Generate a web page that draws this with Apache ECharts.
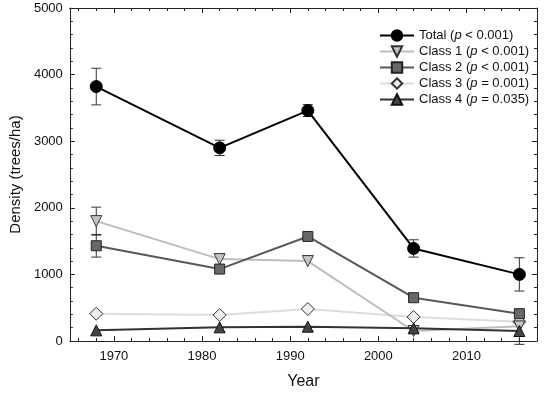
<!DOCTYPE html>
<html>
<head>
<meta charset="utf-8">
<script src="https://cdn.jsdelivr.net/npm/echarts@6/dist/echarts.min.js"></script>
<style>html,body{margin:0;padding:0;background:#fff}#c{width:550px;height:396px}</style>
</head>
<body>
<div id="c"></div>
<script>
const years = [1968, 1982, 1992, 2004, 2016];
const total = [3820, 2900, 3460, 1390, 1000];
const totalErr = [275, 115, 90, 130, 250];
const class1 = [1800, 1230, 1200, 150, 220];
const class1Err = [210, null, null, null, null];
const class2 = [1430, 1080, 1570, 650, 410];
const class2Err = [170, null, null, null, null];
const class3 = [410, 390, 480, 360, 290];
const class4 = [160, 205, 215, 190, 150];
const class4Err = [null, null, null, null, 200];
const xMajor = [1970, 1980, 1990, 2000, 2010];
const xMinor = [1966, 1968, 1972, 1974, 1976, 1978, 1982, 1984, 1986, 1988, 1992, 1994, 1996, 1998, 2002, 2004, 2006, 2008, 2012, 2014, 2016];
const seriesNames = ['Total', 'Class 1', 'Class 2', 'Class 3', 'Class 4'];
const pTexts = ['< 0.001', '< 0.001', '< 0.001', '= 0.001', '= 0.035'];

const FONT = 'Liberation Sans, Arial, sans-serif';
const pairs = v => years.map((y, i) => [y, v[i]]);
const errData = (v, e) => years.map((y, i) => e[i] == null ? null : [y, v[i] - e[i], v[i] + e[i]]).filter(d => d);

function errSeries(v, e) {
  return {
    type: 'custom', xAxisIndex: 0, yAxisIndex: 0, clip: false, silent: true, z: 1,
    data: errData(v, e),
    renderItem(params, api) {
      const x = api.value(0), lo = api.value(1), hi = api.value(2);
      const a = api.coord([x, hi]), b = api.coord([x, lo]);
      const w = 5, st = {stroke: '#333', lineWidth: 1};
      return {type: 'group', children: [
        {type: 'line', shape: {x1: a[0], y1: a[1], x2: b[0], y2: b[1]}, style: st},
        {type: 'line', shape: {x1: a[0] - w, y1: a[1], x2: a[0] + w, y2: a[1]}, style: st},
        {type: 'line', shape: {x1: b[0] - w, y1: b[1], x2: b[0] + w, y2: b[1]}, style: st}
      ]};
    }
  };
}

const AX = '#222';
function xAx(pos, major, labels) {
  return {
    type: 'value', position: pos, min: 1965, max: 2018,
    axisLine: {show: major, onZero: false, lineStyle: {color: AX, width: 1}},
    splitLine: {show: false},
    axisTick: {show: true, inside: true, length: major ? 5 : 3, customValues: major ? xMajor : xMinor, lineStyle: {color: AX}},
    axisLabel: {show: labels, customValues: xMajor, formatter: v => String(v), fontFamily: FONT, fontSize: 13, color: '#111', margin: 9},
    name: labels ? 'Year' : '', nameLocation: 'middle', nameGap: 33,
    nameTextStyle: {fontFamily: FONT, fontSize: 16, color: '#111'}
  };
}
function yAx(pos, labels) {
  return {
    type: 'value', position: pos, min: 0, max: 5000, interval: 1000,
    axisLine: {show: true, onZero: false, lineStyle: {color: AX, width: 1}},
    splitLine: {show: false},
    axisTick: {show: true, inside: true, length: 5, lineStyle: {color: AX}},
    minorTick: {show: true, splitNumber: 5, length: 3, lineStyle: {color: AX}},
    axisLabel: {show: labels, formatter: v => String(v), fontFamily: FONT, fontSize: 13, color: '#111', margin: 7},
    name: labels ? 'Density (trees/ha)' : '', nameLocation: 'middle', nameGap: 40,
    nameTextStyle: {fontFamily: FONT, fontSize: 15, color: '#111'}
  };
}

const defs = [
  {data: total, line: '#000', fill: '#000', border: '#000', symbol: 'circle', size: 12, rot: 0, w: 2, z: 10},
  {data: class1, line: '#bdbdbd', fill: '#c4c4c4', border: '#333', symbol: 'triangle', size: 11, rot: 180, w: 2, z: 6},
  {data: class2, line: '#585858', fill: '#686868', border: '#222', symbol: 'rect', size: 10, rot: 0, w: 2, z: 7},
  {data: class3, line: '#dcdcdc', fill: '#eeeeee', border: '#333', symbol: 'diamond', size: 13, rot: 0, w: 2, z: 5},
  {data: class4, line: '#333333', fill: '#444444', border: '#111', symbol: 'triangle', size: 11, rot: 0, w: 2, z: 8}
];

const series = defs.map((d, i) => ({
  name: seriesNames[i], type: 'line', data: pairs(d.data), xAxisIndex: 0, yAxisIndex: 0,
  symbol: d.symbol, symbolSize: d.size, symbolRotate: d.rot, z: d.z,
  lineStyle: {color: d.line, width: d.w},
  itemStyle: {color: d.fill, borderColor: d.border, borderWidth: 1},
  showAllSymbol: true, animation: false
}));
series.push(errSeries(total, totalErr), errSeries(class1, class1Err), errSeries(class2, class2Err), errSeries(class4, class4Err));

const chart = echarts.init(document.getElementById('c'), null, {renderer: 'canvas'});
chart.setOption({
  animation: false,
  grid: {left: 69, right: 13, top: 8, bottom: 55, containLabel: false},
  xAxis: [xAx('bottom', true, true), xAx('bottom', false, false), xAx('top', true, false), xAx('top', false, false)],
  yAxis: [yAx('left', true), yAx('right', false)],
  legend: {
    orient: 'vertical', left: 374, top: 24, itemWidth: 34, itemHeight: 13, itemGap: 3,
    data: seriesNames,
    formatter: name => {
      const i = seriesNames.indexOf(name);
      return '{t|' + name + ' (}{i|p}{t| ' + pTexts[i] + ')}';
    },
    textStyle: {
      fontFamily: FONT, fontSize: 13, color: '#111',
      rich: {t: {fontFamily: FONT, fontSize: 13, color: '#111'}, i: {fontFamily: FONT, fontSize: 13, color: '#111', fontStyle: 'italic'}}
    }
  },
  series: series
});
</script>
</body>
</html>
